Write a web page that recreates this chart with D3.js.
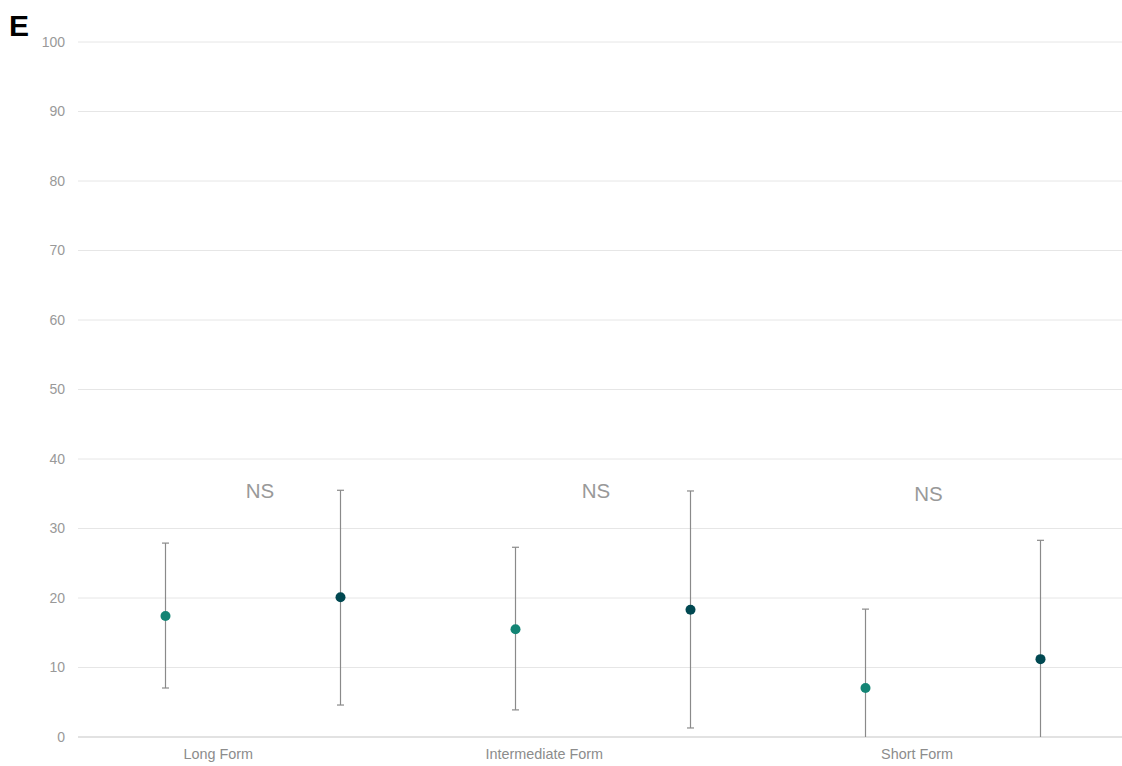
<!DOCTYPE html>
<html><head><meta charset="utf-8">
<script src="https://cdn.jsdelivr.net/npm/d3@7"></script>
<style>body{margin:0;background:#fff;} svg{display:block;font-family:"Liberation Sans",Arial,sans-serif;}</style>
</head><body><svg id="c" width="1122" height="766"></svg>
<script>
const categories = ["Long Form", "Intermediate Form", "Short Form"];
const groups = ["A", "B"];
const seriesMean = [[17.4, 20.1], [15.5, 18.3], [7.05, 11.2]];
const seriesUpper = [[27.9, 35.5], [27.3, 35.4], [18.4, 28.3]];
const seriesLower = [[7.05, 4.6], [3.9, 1.3], [-2, -3]];
const annotations = ["NS", "NS", "NS"];
const annotationValue = [34.4, 34.4, 34.0];
const yTicks = [0, 10, 20, 30, 40, 50, 60, 70, 80, 90, 100];
const colors = ["#138474", "#004851"];

const svg = d3.select("#c");
const m = {l: 78, r: 0, t: 42, b: 29};
const W = 1122, H = 766;
const y = d3.scaleLinear().domain([0, 100]).range([H - m.b, m.t]);
const x = d3.scaleBand().domain(categories).range([m.l, m.l + 1050]);
const xg = d3.scalePoint().domain(groups).range([0.25, 0.75]);

// gridlines
svg.append("g").selectAll("line").data(yTicks).join("line")
  .attr("x1", m.l).attr("x2", W).attr("y1", d => y(d)).attr("y2", d => y(d))
  .attr("stroke", d => d === 0 ? "#d9d9d9" : "#e6e6e6").attr("stroke-width", d => d === 0 ? 1.5 : 1);

// y tick labels
const ya = d3.axisLeft(y).tickValues(yTicks).tickSize(0).tickPadding(13);
const gy = svg.append("g").attr("transform", `translate(${m.l},0)`).call(ya);
gy.select(".domain").remove();
gy.selectAll("text").attr("fill", "#999").attr("font-size", 14).attr("font-family", '"Liberation Sans",Arial,sans-serif');

// x labels (right-aligned at band centre)
svg.append("g").selectAll("text").data(categories).join("text")
  .attr("x", d => x(d) + x.bandwidth() / 2).attr("y", H - m.b + 22)
  .attr("text-anchor", "end").attr("fill", "#8c8c8c").attr("font-size", 14.4).text(d => d);

// clip for error bars
svg.append("clipPath").attr("id", "clip").append("rect")
  .attr("x", m.l).attr("y", 0).attr("width", W - m.l).attr("height", y(0));

const pts = [];
categories.forEach((c, i) => groups.forEach((g, j) => pts.push({
  c, g, j, mean: seriesMean[i][j], hi: seriesUpper[i][j], lo: seriesLower[i][j]
})));
const px = d => x(d.c) + x.bandwidth() * xg(d.g);

const eb = svg.append("g").attr("clip-path", "url(#clip)").attr("stroke", "#8a8a8a").attr("stroke-width", 1.2);
eb.selectAll("line.v").data(pts).join("line").attr("class", "v")
  .attr("x1", px).attr("x2", px).attr("y1", d => y(d.hi)).attr("y2", d => y(d.lo));
eb.selectAll("line.ct").data(pts).join("line").attr("class", "ct")
  .attr("x1", d => px(d) - 3.5).attr("x2", d => px(d) + 3.5).attr("y1", d => y(d.hi)).attr("y2", d => y(d.hi));
eb.selectAll("line.cb").data(pts.filter(d => d.lo > 0)).join("line").attr("class", "cb")
  .attr("x1", d => px(d) - 3.5).attr("x2", d => px(d) + 3.5).attr("y1", d => y(d.lo)).attr("y2", d => y(d.lo));

svg.append("g").selectAll("circle").data(pts).join("circle")
  .attr("cx", px).attr("cy", d => y(d.mean)).attr("r", 5).attr("fill", d => colors[d.j]);

// NS annotations
const nsOffset = [0.52, 0.48, 0.43];
svg.append("g").selectAll("text").data(annotations).join("text")
  .attr("x", (d, i) => x(categories[i]) + x.bandwidth() * nsOffset[i])
  .attr("y", (d, i) => y(annotationValue[i]))
  .attr("text-anchor", "middle").attr("fill", "#999").attr("font-size", 20.5).text(d => d);

// panel letter
svg.append("text").attr("x", 9).attr("y", 36).attr("font-size", 30).attr("font-weight", "bold")
  .attr("fill", "#000").text("E");
</script></body></html>
